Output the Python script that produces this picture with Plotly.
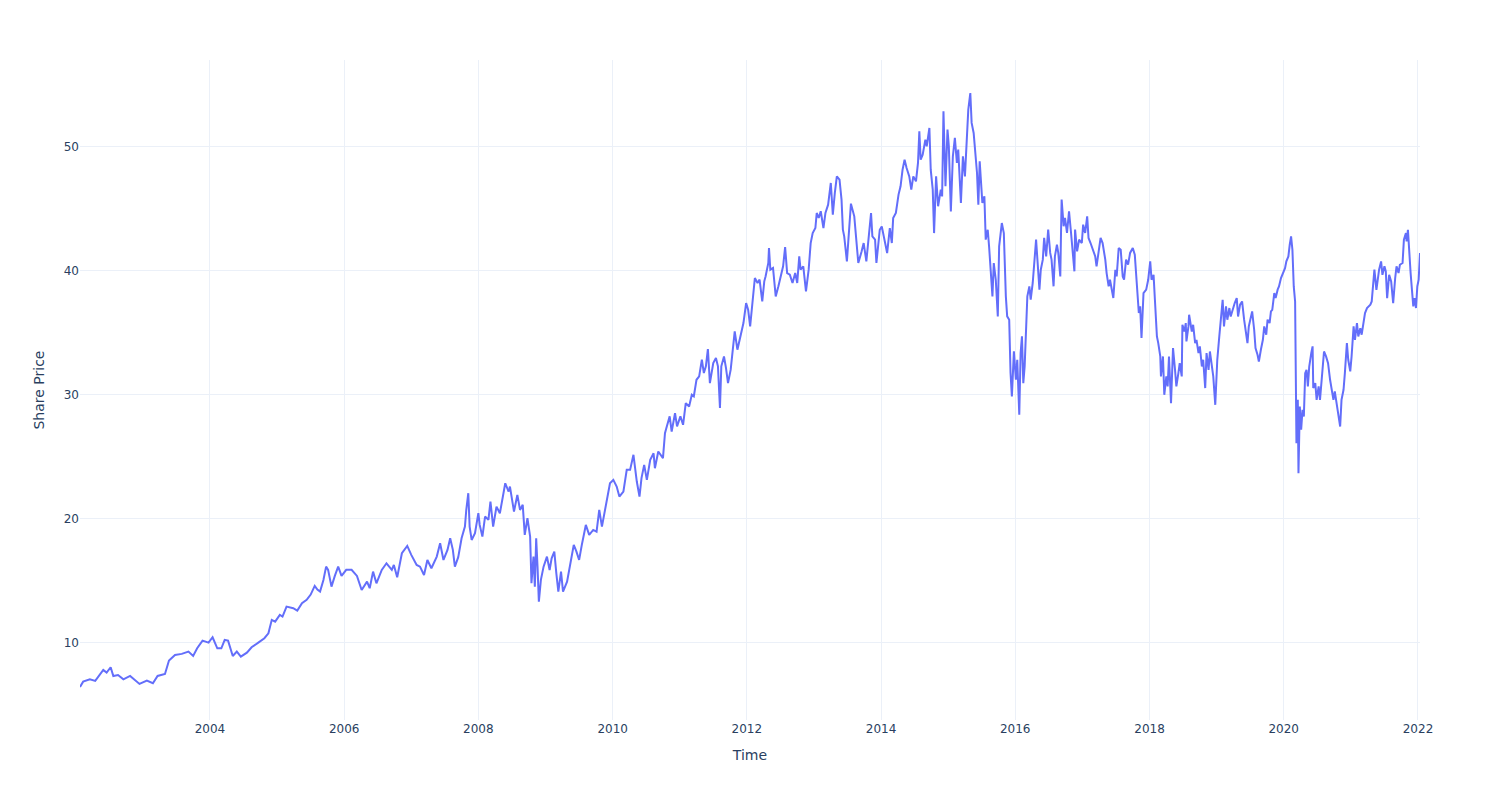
import pandas as pd
import plotly.graph_objects as go

# Decimal-year time stamps and share prices
years = [
    2002.063, 2002.11, 2002.21, 2002.29, 2002.41, 2002.46, 2002.52, 2002.56, 2002.63, 2002.71,
    2002.81, 2002.88, 2002.95, 2003.06, 2003.15, 2003.22, 2003.33, 2003.39, 2003.48, 2003.58,
    2003.68, 2003.75, 2003.81, 2003.89, 2003.98, 2004.04, 2004.11, 2004.17, 2004.22, 2004.27,
    2004.34, 2004.40, 2004.46, 2004.55, 2004.62, 2004.72, 2004.81, 2004.87, 2004.92, 2004.97,
    2005.04, 2005.08, 2005.14, 2005.24, 2005.30, 2005.37, 2005.44, 2005.50, 2005.56, 2005.60,
    2005.64, 2005.69, 2005.73, 2005.76, 2005.81, 2005.86, 2005.91, 2005.96, 2006.03, 2006.11,
    2006.19, 2006.26, 2006.34, 2006.38, 2006.43, 2006.48, 2006.56, 2006.63, 2006.71, 2006.74,
    2006.79, 2006.86, 2006.94, 2007.00, 2007.08, 2007.13, 2007.19, 2007.24, 2007.30, 2007.38,
    2007.43, 2007.48, 2007.54, 2007.58, 2007.62, 2007.65, 2007.70, 2007.75, 2007.80, 2007.82,
    2007.85, 2007.87, 2007.90, 2007.95, 2008.00, 2008.02, 2008.06, 2008.10, 2008.15, 2008.18,
    2008.22, 2008.27, 2008.32, 2008.40, 2008.45, 2008.47, 2008.53, 2008.58, 2008.62, 2008.66,
    2008.69, 2008.73, 2008.77, 2008.79, 2008.82, 2008.84, 2008.86, 2008.88, 2008.90, 2008.93,
    2008.97, 2009.02, 2009.06, 2009.09, 2009.13, 2009.16, 2009.19, 2009.23, 2009.26, 2009.32,
    2009.37, 2009.42, 2009.46, 2009.50, 2009.54, 2009.60, 2009.65, 2009.71, 2009.76, 2009.80,
    2009.84, 2009.90, 2009.96, 2010.01, 2010.06, 2010.10, 2010.16, 2010.21, 2010.26, 2010.31,
    2010.36, 2010.40, 2010.43, 2010.47, 2010.51, 2010.56, 2010.61, 2010.63, 2010.68, 2010.75,
    2010.78, 2010.80, 2010.85, 2010.88, 2010.93, 2010.96, 2011.01, 2011.05, 2011.09, 2011.14,
    2011.18, 2011.21, 2011.25, 2011.29, 2011.33, 2011.36, 2011.39, 2011.42, 2011.45, 2011.50,
    2011.54, 2011.57, 2011.60, 2011.62, 2011.66, 2011.69, 2011.72, 2011.76, 2011.80, 2011.82,
    2011.86, 2011.90, 2011.95, 2011.99, 2012.02, 2012.05, 2012.09, 2012.12, 2012.16, 2012.19,
    2012.23, 2012.26, 2012.28, 2012.32, 2012.33, 2012.35, 2012.39, 2012.43, 2012.47, 2012.52,
    2012.54, 2012.57, 2012.60, 2012.64, 2012.68, 2012.72, 2012.75, 2012.78, 2012.80, 2012.84,
    2012.88, 2012.92, 2012.95, 2012.98, 2013.02, 2013.04, 2013.07, 2013.10, 2013.14, 2013.17,
    2013.21, 2013.25, 2013.28, 2013.31, 2013.34, 2013.38, 2013.41, 2013.43, 2013.45, 2013.49,
    2013.51, 2013.55, 2013.60, 2013.63, 2013.66, 2013.71, 2013.74, 2013.78, 2013.81, 2013.85,
    2013.87, 2013.91, 2013.93, 2013.98, 2014.01, 2014.05, 2014.09, 2014.13, 2014.16, 2014.18,
    2014.22, 2014.26, 2014.29, 2014.32, 2014.35, 2014.38, 2014.42, 2014.45, 2014.48, 2014.52,
    2014.55, 2014.57, 2014.59, 2014.62, 2014.66, 2014.68, 2014.72, 2014.74, 2014.77, 2014.79,
    2014.82, 2014.85, 2014.89, 2014.91, 2014.93, 2014.96, 2014.99, 2015.01, 2015.04, 2015.07,
    2015.10, 2015.13, 2015.15, 2015.19, 2015.22, 2015.25, 2015.28, 2015.30, 2015.33, 2015.35,
    2015.38, 2015.40, 2015.43, 2015.45, 2015.47, 2015.51, 2015.54, 2015.56, 2015.59, 2015.61,
    2015.64, 2015.66, 2015.68, 2015.71, 2015.74, 2015.76, 2015.80, 2015.83, 2015.86, 2015.88,
    2015.91, 2015.93, 2015.95, 2015.98, 2016.01, 2016.03, 2016.06, 2016.08, 2016.10, 2016.12,
    2016.14, 2016.16, 2016.18, 2016.21, 2016.23, 2016.26, 2016.28, 2016.31, 2016.33, 2016.36,
    2016.38, 2016.41, 2016.43, 2016.46, 2016.49, 2016.52, 2016.54, 2016.57, 2016.59, 2016.62,
    2016.64, 2016.67, 2016.68, 2016.69, 2016.72, 2016.74, 2016.77, 2016.80, 2016.83, 2016.86,
    2016.88, 2016.89, 2016.92, 2016.95, 2016.99, 2017.01, 2017.04, 2017.07, 2017.09, 2017.12,
    2017.15, 2017.19, 2017.21, 2017.24, 2017.27, 2017.30, 2017.34, 2017.36, 2017.39, 2017.41,
    2017.44, 2017.46, 2017.49, 2017.51, 2017.54, 2017.57, 2017.60, 2017.62, 2017.65, 2017.68,
    2017.71, 2017.75, 2017.78, 2017.81, 2017.84, 2017.86, 2017.88, 2017.91, 2017.95, 2017.98,
    2018.01, 2018.03, 2018.06, 2018.08, 2018.11, 2018.13, 2018.16, 2018.17, 2018.20, 2018.22,
    2018.25, 2018.27, 2018.29, 2018.32, 2018.33, 2018.35, 2018.38, 2018.40, 2018.43, 2018.45,
    2018.48, 2018.49, 2018.52, 2018.54, 2018.55, 2018.58, 2018.59, 2018.63, 2018.65, 2018.68,
    2018.70, 2018.73, 2018.75, 2018.78, 2018.80, 2018.83, 2018.85, 2018.88, 2018.90, 2018.93,
    2018.95, 2018.98, 2019.01, 2019.04, 2019.06, 2019.09, 2019.11, 2019.14, 2019.16, 2019.19,
    2019.21, 2019.25, 2019.27, 2019.30, 2019.32, 2019.35, 2019.38, 2019.41, 2019.44, 2019.46,
    2019.48, 2019.51, 2019.53, 2019.56, 2019.58, 2019.61, 2019.63, 2019.66, 2019.69, 2019.71,
    2019.74, 2019.76, 2019.79, 2019.81, 2019.83, 2019.86, 2019.88, 2019.91, 2019.93, 2019.96,
    2019.99, 2020.02, 2020.04, 2020.07, 2020.09, 2020.11, 2020.13, 2020.15, 2020.17, 2020.18,
    2020.19, 2020.21, 2020.22, 2020.24, 2020.26, 2020.28, 2020.30, 2020.32, 2020.34, 2020.36,
    2020.38, 2020.41, 2020.43, 2020.44, 2020.47, 2020.49, 2020.52, 2020.54, 2020.57, 2020.60,
    2020.63, 2020.66, 2020.69, 2020.71, 2020.74, 2020.76, 2020.79, 2020.81, 2020.84, 2020.86,
    2020.89, 2020.91, 2020.94, 2020.96, 2020.99, 2021.01, 2021.04, 2021.06, 2021.09, 2021.11,
    2021.14, 2021.16, 2021.19, 2021.21, 2021.24, 2021.26, 2021.29, 2021.31, 2021.34, 2021.35,
    2021.38, 2021.39, 2021.42, 2021.45, 2021.47, 2021.50, 2021.52, 2021.54, 2021.57, 2021.60,
    2021.63, 2021.66, 2021.68, 2021.71, 2021.73, 2021.77, 2021.79, 2021.82, 2021.83, 2021.85,
    2021.87, 2021.89, 2021.91, 2021.93, 2021.95, 2021.97, 2021.99, 2022.01, 2022.03,
]

share_price = [
    6.45, 6.88, 7.07, 6.94, 7.83, 7.61, 8.04, 7.34, 7.42, 7.07,
    7.34, 7.02, 6.70, 6.97, 6.75, 7.34, 7.50, 8.58, 9.03, 9.12,
    9.30, 8.95, 9.57, 10.19, 10.03, 10.46, 9.57, 9.57, 10.24, 10.19,
    8.95, 9.30, 8.90, 9.22, 9.65, 10.03, 10.38, 10.78, 11.86, 11.72,
    12.26, 12.13, 12.93, 12.80, 12.61, 13.20, 13.47, 13.90, 14.60, 14.30,
    14.14, 15.08, 16.15, 15.89, 14.54, 15.40, 16.15, 15.40, 15.89, 15.89,
    15.40, 14.27, 14.94, 14.41, 15.75, 14.81, 15.89, 16.42, 15.89, 16.29,
    15.29, 17.23, 17.82, 17.10, 16.29, 16.15, 15.48, 16.69, 16.02, 16.96,
    18.04, 16.69, 17.50, 18.44, 17.50, 16.15, 16.91, 18.44, 19.38, 20.72,
    22.07, 19.38, 18.30, 18.84, 20.46, 19.51, 18.57, 20.19, 19.92, 21.40,
    19.38, 20.99, 20.45, 22.87, 22.20, 22.60, 20.59, 21.93, 20.72, 21.13,
    18.71, 20.05, 18.57, 14.81, 16.96, 14.54, 18.44, 16.15, 13.33, 15.08,
    16.15, 16.96, 15.88, 16.82, 17.36, 15.61, 14.14, 15.75, 14.14, 14.94,
    16.42, 17.90, 17.36, 16.69, 17.90, 19.51, 18.71, 19.11, 18.97, 20.72,
    19.38, 21.13, 22.87, 23.14, 22.60, 21.80, 22.20, 23.95, 23.95, 25.16,
    23.01, 21.80, 23.28, 24.35, 23.14, 24.75, 25.29, 24.08, 25.43, 24.89,
    26.91, 27.31, 28.26, 27.04, 28.52, 27.45, 28.26, 27.58, 29.33, 29.06,
    30.00, 29.87, 31.21, 31.48, 32.83, 31.75, 32.29, 33.68, 30.94, 32.56,
    32.96, 32.29, 28.93, 32.29, 33.09, 32.15, 30.94, 32.02, 34.17, 35.11,
    33.63, 34.71, 35.78, 37.39, 36.86, 35.51, 37.93, 39.41, 39.01, 39.28,
    37.53, 39.14, 39.55, 40.62, 41.83, 40.08, 40.22, 37.93, 38.74, 39.81,
    40.35, 41.91, 39.81, 39.68, 39.01, 39.81, 39.01, 41.16, 40.08, 40.35,
    38.34, 40.08, 42.23, 43.04, 43.44, 44.65, 44.25, 44.79, 43.44, 44.65,
    45.32, 47.07, 44.52, 46.27, 47.61, 47.34, 45.73, 43.31, 42.77, 40.75,
    42.23, 45.40, 44.38, 42.50, 40.62, 41.56, 42.23, 40.75, 42.36, 44.65,
    42.77, 42.50, 40.62, 43.30, 43.57, 42.50, 41.42, 43.44, 42.23, 44.24,
    44.65, 46.13, 46.80, 48.14, 48.95, 48.28, 47.60, 46.53, 47.60, 47.20,
    48.68, 51.23, 48.95, 49.35, 50.56, 50.02, 51.50, 48.14, 46.53, 43.03,
    47.60, 45.19, 46.53, 45.99, 52.85, 46.80, 51.37, 50.02, 44.78, 49.22,
    50.70, 48.68, 49.76, 45.45, 49.22, 47.60, 50.29, 52.98, 54.32, 51.91,
    51.10, 50.02, 47.87, 45.32, 48.81, 45.45, 45.99, 42.50, 43.30, 41.96,
    39.54, 37.93, 40.62, 39.27, 36.31, 41.96, 43.84, 43.03, 37.93, 36.32,
    36.05, 31.75, 29.87, 33.50, 31.21, 32.82, 28.39, 33.36, 34.71, 30.94,
    32.29, 34.97, 37.93, 38.74, 37.66, 39.01, 40.62, 42.50, 40.89, 38.47,
    40.08, 40.89, 42.64, 41.16, 43.31, 41.43, 40.89, 38.74, 41.16, 42.10,
    41.43, 39.54, 42.77, 45.73, 43.58, 44.25, 43.04, 44.79, 43.04, 41.16,
    39.95, 43.31, 41.56, 42.50, 42.23, 43.71, 43.04, 44.38, 42.64, 42.23,
    41.83, 41.16, 40.35, 41.69, 42.64, 42.23, 40.89, 39.81, 38.74, 39.27,
    38.47, 37.80, 40.08, 39.54, 41.83, 41.69, 39.54, 39.27, 40.89, 40.49,
    41.43, 41.83, 41.29, 38.47, 36.59, 37.13, 34.57, 38.20, 38.47, 39.27,
    40.75, 39.27, 39.67, 37.66, 34.70, 34.16, 33.09, 31.48, 33.09, 30.00,
    31.48, 30.67, 33.09, 29.33, 31.48, 33.76, 32.01, 30.67, 31.74, 32.55,
    31.48, 35.64, 35.10, 35.78, 34.30, 35.51, 36.45, 35.10, 35.64, 34.16,
    34.43, 33.36, 33.90, 32.28, 32.82, 30.54, 33.36, 32.01, 33.49, 32.01,
    31.48, 29.19, 32.82, 34.70, 36.05, 37.66, 35.51, 37.12, 36.05, 36.99,
    36.31, 37.12, 37.39, 37.79, 36.31, 37.26, 37.52, 36.05, 34.97, 34.16,
    35.51, 36.31, 36.72, 35.24, 33.76, 33.22, 32.68, 33.63, 34.43, 35.51,
    34.84, 36.05, 35.78, 36.72, 36.85, 38.20, 37.79, 38.47, 38.73, 39.41,
    39.81, 40.21, 40.75, 41.15, 42.09, 42.77, 41.69, 38.73, 37.52, 31.21,
    26.10, 29.59, 23.68, 29.06, 27.18, 28.79, 28.25, 31.74, 32.01, 30.67,
    32.28, 33.36, 33.90, 30.54, 30.94, 29.59, 30.67, 29.59, 31.48, 33.49,
    33.09, 32.55, 31.21, 30.40, 29.59, 30.27, 29.19, 28.52, 27.44, 29.59,
    30.40, 31.74, 34.16, 32.82, 31.88, 33.09, 35.51, 34.43, 35.78, 34.70,
    35.37, 34.84, 36.18, 36.58, 36.99, 37.12, 37.26, 37.52, 39.27, 40.08,
    38.46, 38.87, 40.08, 40.75, 39.67, 40.35, 39.94, 37.79, 39.67, 39.14,
    37.39, 39.41, 40.35, 39.81, 40.48, 40.62, 42.50, 43.04, 42.36, 43.30,
    41.15, 39.81, 38.46, 37.12, 37.79, 36.99, 38.73, 39.27, 41.42,
]


def to_date(y):
    yr = int(y)
    start = pd.Timestamp(year=yr, month=1, day=1)
    end = pd.Timestamp(year=yr + 1, month=1, day=1)
    return start + (end - start) * (y - yr)


dates = [to_date(y) for y in years]

fig = go.Figure(
    go.Scatter(
        x=dates,
        y=share_price,
        mode="lines",
        line=dict(color="#636efa", width=2),
        showlegend=False,
    )
)

fig.update_layout(
    template="plotly_white",
    width=1500,
    height=800,
    margin=dict(l=80, r=80, t=60, b=80),
    font=dict(family="DejaVu Sans", color="#2a3f5f"),
    xaxis_title="Time",
    yaxis_title="Share Price",
)

fig.write_html("out.html")
